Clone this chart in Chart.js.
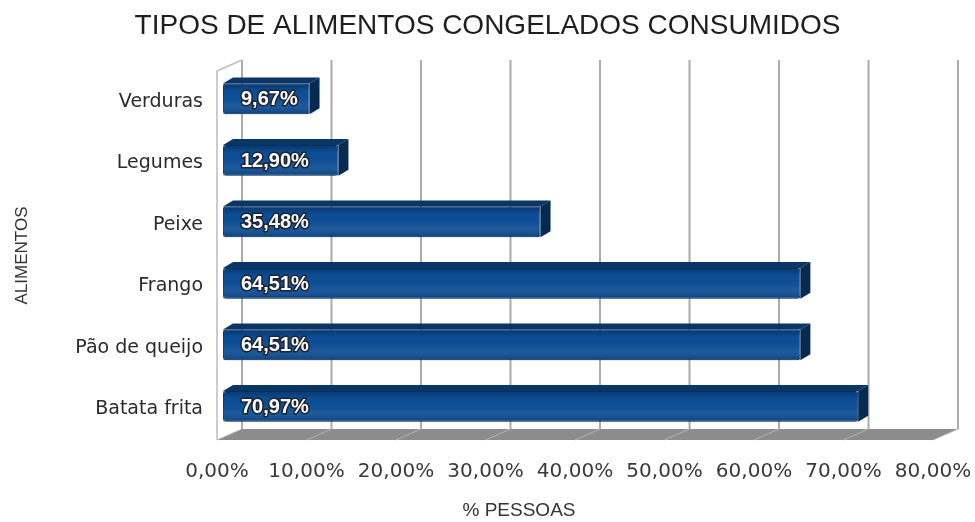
<!DOCTYPE html>
<html>
<head>
<meta charset="utf-8">
<script src="https://cdn.jsdelivr.net/npm/chart.js@4/dist/chart.umd.min.js"></script>
<style>
  body { margin: 0; background: #fff; }
  canvas { display: block; }
</style>
</head>
<body>
<canvas id="foodChart" width="975" height="522" style="width:975px;height:522px"></canvas>
<script>
// Data
const categories = ["Verduras", "Legumes", "Peixe", "Frango", "Pão de queijo", "Batata frita"];
const percentPeople = [9.67, 12.90, 35.48, 64.51, 64.51, 70.97];
const valueLabels = ["9,67%", "12,90%", "35,48%", "64,51%", "64,51%", "70,97%"];
const tickLabels = ["0,00%", "10,00%", "20,00%", "30,00%", "40,00%", "50,00%", "60,00%", "70,00%", "80,00%"];

// 3D look: wall depth, bar offset into the box, bar depth
const WALL_DX = 25, WALL_DY = -11;
const BAR_DX = 6, BAR_DY = -3;
const DEPTH_DX = 10, DEPTH_DY = -6;

const depth3d = {
  id: "depth3d",
  beforeDatasetsDraw(chart) {
    const { ctx, chartArea: a, scales: { x } } = chart;
    ctx.save();
    // floor
    ctx.fillStyle = "#8c8c8c";
    ctx.beginPath();
    ctx.moveTo(a.left, a.bottom);
    ctx.lineTo(a.right, a.bottom);
    ctx.lineTo(a.right + WALL_DX, a.bottom + WALL_DY);
    ctx.lineTo(a.left + WALL_DX, a.bottom + WALL_DY);
    ctx.closePath();
    ctx.fill();
    ctx.strokeStyle = "#b4b4b4";
    ctx.lineWidth = 1;
    x.ticks.forEach(t => {
      const px = x.getPixelForValue(t.value);
      ctx.beginPath();
      ctx.moveTo(px, a.bottom);
      ctx.lineTo(px + WALL_DX, a.bottom + WALL_DY);
      ctx.stroke();
    });
    // back wall grid lines
    ctx.strokeStyle = "#ababab";
    ctx.lineWidth = 2;
    x.ticks.forEach(t => {
      const px = x.getPixelForValue(t.value) + WALL_DX;
      ctx.beginPath();
      ctx.moveTo(px, a.top + WALL_DY);
      ctx.lineTo(px, a.bottom + WALL_DY);
      ctx.stroke();
    });
    // left wall edge
    ctx.strokeStyle = "#bcbcbc";
    ctx.lineWidth = 1.5;
    ctx.beginPath();
    ctx.moveTo(a.left, a.bottom);
    ctx.lineTo(a.left, a.top);
    ctx.lineTo(a.left + WALL_DX, a.top + WALL_DY);
    ctx.stroke();
    ctx.restore();

    // bars sit a little inside the box
    ctx.save();
    ctx.translate(BAR_DX, BAR_DY);
  },
  afterDatasetsDraw(chart) {
    const { ctx } = chart;
    ctx.restore();
    ctx.save();
    chart.getDatasetMeta(0).data.forEach((el, i) => {
      const x0 = el.base + BAR_DX, x1 = el.x + BAR_DX;
      const yT = el.y - el.height / 2 + BAR_DY, yB = el.y + el.height / 2 + BAR_DY;

      // shading on the front face
      const g = ctx.createLinearGradient(0, yT, 0, yB);
      g.addColorStop(0, "rgba(0,20,50,0.35)");
      g.addColorStop(0.25, "rgba(0,0,0,0)");
      g.addColorStop(0.6, "rgba(255,255,255,0.04)");
      g.addColorStop(1, "rgba(0,20,50,0.25)");
      ctx.fillStyle = g;
      ctx.fillRect(x0, yT, x1 - x0, yB - yT);

      // top face
      ctx.fillStyle = "#0a3666";
      ctx.beginPath();
      ctx.moveTo(x0, yT);
      ctx.lineTo(x1, yT);
      ctx.lineTo(x1 + DEPTH_DX, yT + DEPTH_DY);
      ctx.lineTo(x0 + DEPTH_DX, yT + DEPTH_DY);
      ctx.closePath();
      ctx.fill();
      // side face
      ctx.fillStyle = "#062a52";
      ctx.beginPath();
      ctx.moveTo(x1, yT);
      ctx.lineTo(x1 + DEPTH_DX, yT + DEPTH_DY);
      ctx.lineTo(x1 + DEPTH_DX, yB + DEPTH_DY);
      ctx.lineTo(x1, yB);
      ctx.closePath();
      ctx.fill();

      // value label
      ctx.font = 'bold 20px "Liberation Sans", Arial, sans-serif';
      ctx.textAlign = "left";
      ctx.textBaseline = "middle";
      ctx.lineJoin = "round";
      ctx.lineWidth = 3;
      ctx.strokeStyle = "#1b2430";
      ctx.strokeText(valueLabels[i], x0 + 18, (yT + yB) / 2 + 1);
      ctx.fillStyle = "#ffffff";
      ctx.fillText(valueLabels[i], x0 + 18, (yT + yB) / 2 + 1);
    });
    ctx.restore();
  },
  afterDraw(chart) {
    const { ctx } = chart;
    ctx.save();
    ctx.font = '19px "Liberation Sans", Arial, sans-serif';
    ctx.fillStyle = "#333";
    ctx.textAlign = "center";
    ctx.textBaseline = "middle";
    ctx.fillText("% PESSOAS", 519, 511);
    ctx.restore();
  }
};

const ctx = document.getElementById("foodChart").getContext("2d");
new Chart(ctx, {
  type: "bar",
  data: {
    labels: categories,
    datasets: [{
      label: "% pessoas",
      data: percentPeople,
      backgroundColor: "#0c4d95",
      borderColor: "#083b72",
      borderWidth: 1,
      borderRadius: 3,
      borderSkipped: false,
      barPercentage: 0.5,
      categoryPercentage: 1,
      clip: false
    }]
  },
  options: {
    indexAxis: "y",
    responsive: false,
    animation: false,
    devicePixelRatio: 1,
    layout: { padding: 0 },
    plugins: {
      legend: { display: false },
      tooltip: { enabled: false },
      title: {
        display: true,
        text: "TIPOS DE ALIMENTOS CONGELADOS CONSUMIDOS",
        color: "#1e1e1e",
        font: { family: '"Liberation Sans", Arial, sans-serif', size: 28, weight: "normal" },
        padding: { top: 9, bottom: 28.4 }
      }
    },
    scales: {
      x: {
        min: 0,
        max: 80,
        grid: { display: false, drawTicks: false },
        border: { display: false },
        ticks: {
          stepSize: 10,
          padding: 20,
          color: "#3a3a3a",
          font: { family: '"DejaVu Sans", sans-serif', size: 20 },
          callback: (v, i) => tickLabels[i]
        },
        afterFit: scale => {
          scale.height = 82;
          scale.paddingLeft = 0;
          scale.paddingRight = 42;
        }
      },
      y: {
        grid: { display: false, drawTicks: false },
        border: { display: false },
        ticks: {
          padding: 14,
          color: "#2a2a2a",
          font: { family: '"DejaVu Sans", sans-serif', size: 19 }
        },
        title: {
          display: true,
          text: "ALIMENTOS",
          color: "#333",
          font: { family: '"Liberation Sans", Arial, sans-serif', size: 17 },
          padding: { top: 12, bottom: 0 }
        },
        afterFit: scale => {
          scale.width = 217;
          scale.paddingTop = 0;
          scale.paddingBottom = 0;
        }
      }
    }
  },
  plugins: [depth3d]
});
</script>
</body>
</html>
